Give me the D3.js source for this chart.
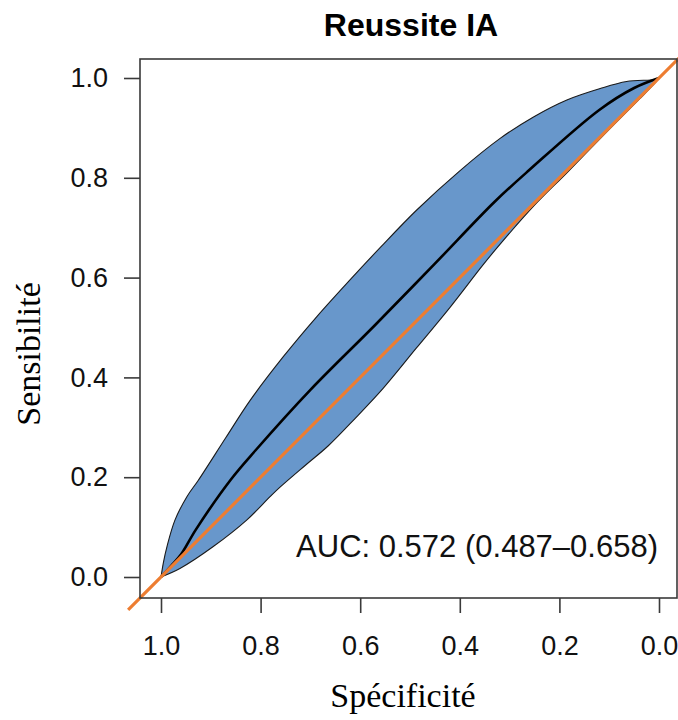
<!DOCTYPE html>
<html>
<head>
<meta charset="utf-8">
<script src="https://cdn.jsdelivr.net/npm/d3@7"></script>
<style>
  html, body { margin: 0; padding: 0; background: #fff; }
  svg { display: block; }
</style>
</head>
<body>
<svg id="chart" width="678" height="720"></svg>
<script>
// ---- data ----
const title = "Reussite IA";
const xLabel = "Spécificité";
const yLabel = "Sensibilité";
const aucText = "AUC: 0.572 (0.487\u20130.658)";
const xTicks = [1.0, 0.8, 0.6, 0.4, 0.2, 0.0];
const yTicks = [0.0, 0.2, 0.4, 0.6, 0.8, 1.0];

// ROC curve: specificity / sensitivity
const rocSpec = [1.0, 0.98, 0.96, 0.93, 0.86, 0.81, 0.70, 0.57, 0.45, 0.33, 0.26, 0.12, 0.05, 0.0];
const rocSens = [0.0, 0.022, 0.045, 0.095, 0.195, 0.254, 0.375, 0.505, 0.628, 0.752, 0.816, 0.936, 0.98, 1.0];

// confidence band, upper edge
const upSpec = [1.0, 0.995, 0.988, 0.972, 0.948, 0.925, 0.87, 0.821, 0.754, 0.687, 0.620, 0.560, 0.487, 0.40, 0.319, 0.252, 0.185, 0.118, 0.065, 0.008, 0.0];
const upSens = [0.0, 0.03, 0.061, 0.114, 0.161, 0.194, 0.279, 0.354, 0.442, 0.522, 0.596, 0.660, 0.735, 0.814, 0.879, 0.922, 0.956, 0.979, 0.993, 0.997, 1.0];

// confidence band, lower edge
const loSpec = [1.0, 0.962, 0.895, 0.828, 0.781, 0.761, 0.71, 0.664, 0.61, 0.554, 0.487, 0.42, 0.353, 0.319, 0.25, 0.185, 0.10, 0.04, 0.008, 0.0];
const loSens = [0.0, 0.017, 0.061, 0.114, 0.161, 0.180, 0.224, 0.263, 0.318, 0.378, 0.459, 0.540, 0.626, 0.667, 0.745, 0.81, 0.897, 0.957, 0.99, 1.0];

// reference diagonal (extended beyond the axes as in the reference)
const diagSpec = [1.066, -0.04];

// ---- layout ----
const svg = d3.select("#chart");
const x = d3.scaleLinear().domain([1, 0]).range([161, 659]);
const y = d3.scaleLinear().domain([0, 1]).range([577, 78]);
const box = { left: 140, right: 677, top: 59, bottom: 598 };

const sansFont = "'Liberation Sans', Arial, Helvetica, sans-serif";
const serifFont = "'Liberation Serif', 'Times New Roman', Times, serif";

const smooth = d3.line().x(d => x(d[0])).y(d => y(d[1])).curve(d3.curveCatmullRom.alpha(0.5));
const straight = d3.line().x(d => x(d[0])).y(d => y(d[1]));

// band polygon: upper edge 1 -> 0, then lower edge 0 -> 1
const upPts = upSpec.map((s, i) => [s, upSens[i]]);
const loPts = loSpec.map((s, i) => [s, loSens[i]]).reverse();
const bandD = smooth(upPts) + smooth(loPts).replace(/^M/, "L") + "Z";

svg.append("path")
  .attr("d", bandD)
  .attr("fill", "#6897CB")
  .attr("stroke", "#1a1a1a")
  .attr("stroke-width", 1.1)
  .attr("stroke-linejoin", "round");

// ROC curve
svg.append("path")
  .attr("d", smooth(rocSpec.map((s, i) => [s, rocSens[i]])))
  .attr("fill", "none")
  .attr("stroke", "#000")
  .attr("stroke-width", 2.6)
  .attr("stroke-linejoin", "round");

// diagonal
svg.append("path")
  .attr("d", straight(diagSpec.map(s => [s, 1 - s])))
  .attr("fill", "none")
  .attr("stroke", "#ED7D31")
  .attr("stroke-width", 3.2);

// box
svg.append("rect")
  .attr("x", box.left).attr("y", box.top)
  .attr("width", box.right - box.left).attr("height", box.bottom - box.top)
  .attr("fill", "none").attr("stroke", "#3a3a3a").attr("stroke-width", 1.6);

// x axis
const xAxis = d3.axisBottom(x).tickValues(xTicks).tickFormat(d3.format(".1f"))
  .tickSize(15).tickPadding(23);
const gx = svg.append("g").attr("transform", `translate(0,${box.bottom})`).call(xAxis);
gx.select(".domain").remove();
gx.selectAll(".tick line").attr("stroke", "#3a3a3a").attr("stroke-width", 1.6);
gx.selectAll(".tick text").attr("font-family", sansFont).attr("font-size", 27).attr("fill", "#111");

// y axis
const yAxis = d3.axisLeft(y).tickValues(yTicks).tickFormat(d3.format(".1f"))
  .tickSize(16).tickPadding(16);
const gy = svg.append("g").attr("transform", `translate(${box.left},0)`).call(yAxis);
gy.select(".domain").remove();
gy.selectAll(".tick line").attr("stroke", "#3a3a3a").attr("stroke-width", 1.6);
gy.selectAll(".tick text").attr("font-family", sansFont).attr("font-size", 27).attr("fill", "#111");

// title
svg.append("text")
  .attr("x", 411).attr("y", 36)
  .attr("text-anchor", "middle")
  .attr("font-family", sansFont).attr("font-weight", "bold").attr("font-size", 32)
  .attr("fill", "#000")
  .text(title);

// AUC label
svg.append("text")
  .attr("x", 658).attr("y", 557)
  .attr("text-anchor", "end")
  .attr("font-family", sansFont).attr("font-size", 31)
  .attr("fill", "#111")
  .text(aucText);

// axis titles
svg.append("text")
  .attr("x", 403).attr("y", 707)
  .attr("text-anchor", "middle")
  .attr("font-family", serifFont).attr("font-size", 34)
  .attr("fill", "#000")
  .text(xLabel);

svg.append("text")
  .attr("transform", "translate(40,354) rotate(-90)")
  .attr("text-anchor", "middle")
  .attr("font-family", serifFont).attr("font-size", 34)
  .attr("fill", "#000")
  .text(yLabel);
</script>
</body>
</html>
